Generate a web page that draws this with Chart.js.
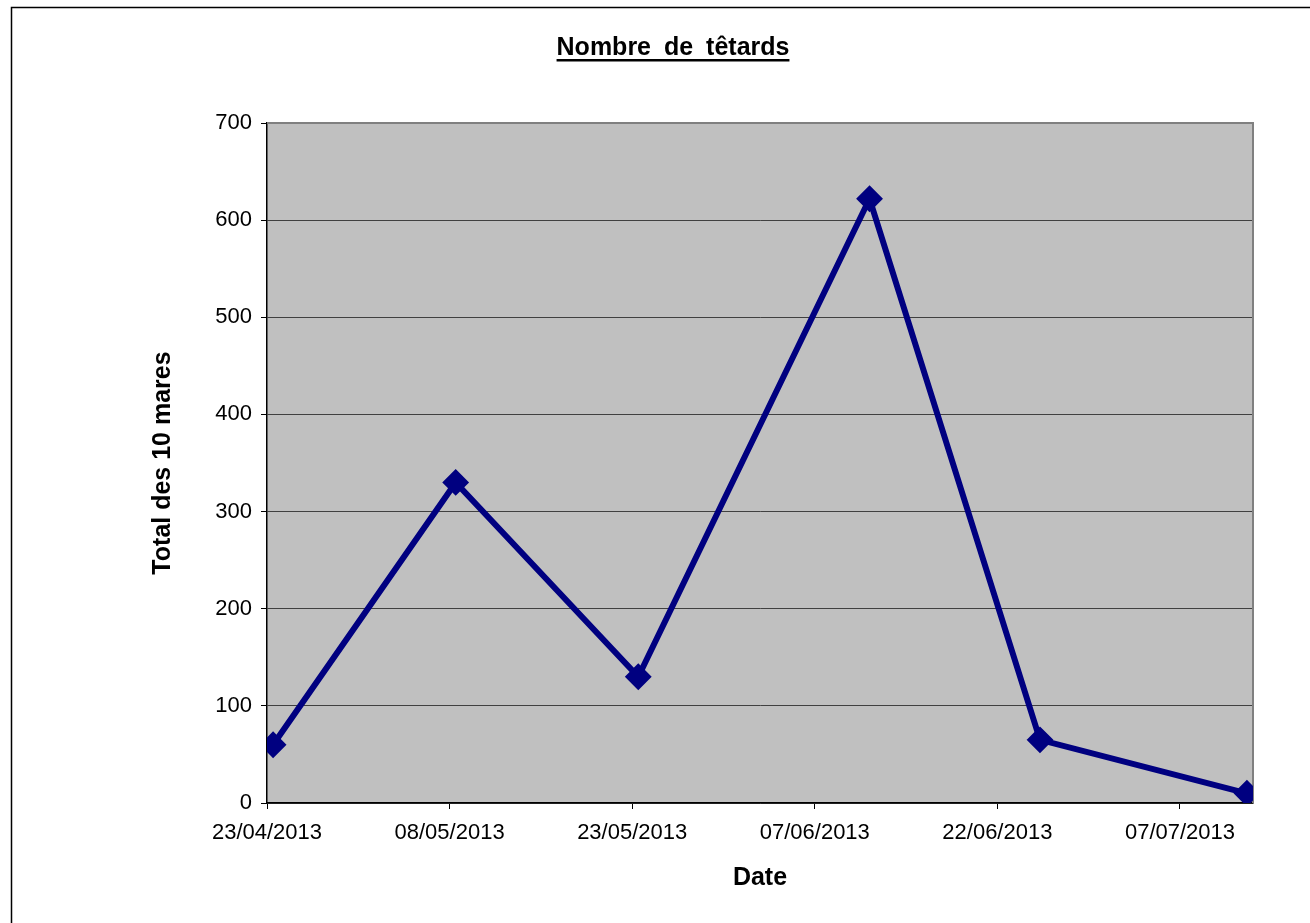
<!DOCTYPE html>
<html>
<head>
<meta charset="utf-8">
<title>Nombre de têtards</title>
<script src="https://cdn.jsdelivr.net/npm/chart.js@4.4.1/dist/chart.umd.min.js"></script>
<style>
  body { margin: 0; background: #fff; }
  canvas { display: block; }
</style>
</head>
<body>
<canvas id="chart" width="1310" height="923"></canvas>
<script>
// comptages (total des 10 mares)
const dates = ['23/04/2013', '08/05/2013', '23/05/2013', '11/06/2013', '25/06/2013', '12/07/2013']
const totals = [60, 330, 130, 622, 65, 10]
const tickLabels = ['23/04/2013', '08/05/2013', '23/05/2013', '07/06/2013', '22/06/2013', '07/07/2013']
const yTicks = [0, 100, 200, 300, 400, 500, 600, 700]

const FONT = '"Liberation Sans", Arial, sans-serif'

// days since the first date
function dayOf(str) {
    const [d, m, y] = str.split('/').map(Number)
    const [d0, m0, y0] = dates[0].split('/').map(Number)
    return (Date.UTC(y, m - 1, d) - Date.UTC(y0, m0 - 1, d0)) / 86400000
}

const points = dates.map((d, i) => ({ x: dayOf(d), y: totals[i] }))

const frame = {
    id: 'frame',
    beforeDraw(chart) {
        const { ctx, chartArea: a } = chart
        ctx.save()
        ctx.fillStyle = '#fff'
        ctx.fillRect(0, 0, chart.width, chart.height)
        ctx.strokeStyle = '#000'
        ctx.lineWidth = 1.5
        ctx.strokeRect(11.5, 7.5, chart.width + 40, chart.height + 40)
        ctx.fillStyle = '#c0c0c0'
        ctx.fillRect(a.left, a.top, a.right - a.left, a.bottom - a.top)
        ctx.restore()
    },
    beforeDatasetsDraw(chart) {
        const { ctx, chartArea: a } = chart
        ctx.save()
        ctx.strokeStyle = '#808080'
        ctx.lineWidth = 2
        ctx.beginPath()
        ctx.moveTo(a.left, a.top)
        ctx.lineTo(a.right, a.top)
        ctx.lineTo(a.right, a.bottom)
        ctx.stroke()
        ctx.restore()
    },
    afterDraw(chart) {
        const { ctx } = chart
        const text = 'Nombre de têtards'
        ctx.save()
        ctx.font = 'bold 25px ' + FONT
        ctx.wordSpacing = '6px'
        ctx.fillStyle = '#000'
        ctx.textAlign = 'center'
        ctx.textBaseline = 'alphabetic'
        const cx = 673, base = 55
        ctx.fillText(text, cx, base)
        const w = ctx.measureText(text).width
        ctx.fillRect(cx - w / 2, base + 4, w, 2.5)
        ctx.restore()
    }
}

new Chart(document.getElementById('chart'), {
    type: 'line',
    data: {
        datasets: [{
            data: points,
            borderColor: '#000080',
            backgroundColor: '#000080',
            borderWidth: 6,
            pointStyle: 'rectRot',
            pointRadius: 12,
            pointBorderWidth: 2,
            pointBackgroundColor: '#000080',
            pointBorderColor: '#000080',
            tension: 0
        }]
    },
    options: {
        responsive: false,
        animation: false,
        layout: { padding: { top: 123, right: 57, bottom: 20, left: 0 } },
        plugins: {
            legend: { display: false },
            tooltip: { enabled: false },
            title: { display: false }
        },
        scales: {
            x: {
                type: 'linear',
                min: -0.5,
                max: 80.5,
                afterFit(scale) { scale.height = 100 },
                afterBuildTicks(scale) {
                    scale.ticks = tickLabels.map(t => ({ value: dayOf(t) - 0.5 }))
                },
                grid: { drawOnChartArea: false, tickLength: 6, tickColor: '#000' },
                border: { color: '#000', width: 1.5 },
                ticks: {
                    autoSkip: false,
                    maxRotation: 0,
                    padding: 11,
                    color: '#000',
                    font: { family: FONT, size: 22 },
                    callback: (v, i) => tickLabels[i]
                },
                title: {
                    display: true,
                    text: 'Date',
                    color: '#000',
                    font: { family: FONT, size: 25, weight: 'bold' },
                    padding: { top: 0, bottom: 10 }
                }
            },
            y: {
                min: 0,
                max: 700,
                afterFit(scale) { scale.width = 267 },
                afterBuildTicks(scale) {
                    scale.ticks = yTicks.map(v => ({ value: v }))
                },
                grid: { color: '#404040', lineWidth: 1, tickLength: 6, tickColor: '#000' },
                border: { color: '#000', width: 1.5 },
                ticks: {
                    padding: 9,
                    color: '#000',
                    font: { family: FONT, size: 22 }
                },
                title: {
                    display: true,
                    text: 'Total des 10 mares',
                    color: '#000',
                    font: { family: FONT, size: 25, weight: 'bold' },
                    padding: { top: 148, bottom: 0 }
                }
            }
        }
    },
    plugins: [frame]
})
</script>
</body>
</html>
